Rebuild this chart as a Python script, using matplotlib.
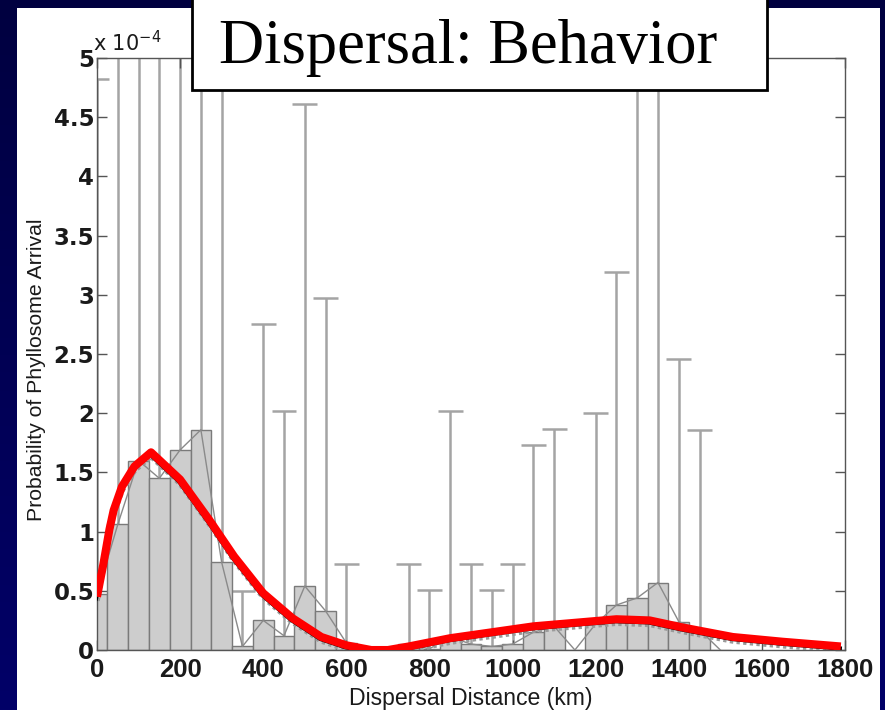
import numpy as np
import matplotlib
matplotlib.use("Agg")
import matplotlib.pyplot as plt
from matplotlib.patches import Rectangle
from matplotlib.transforms import offset_copy

# bin centres (km), bar heights and upper error limits (units of 1e-4)
bin_km = [0, 50, 100, 150, 200, 250, 300, 350, 400, 450, 500, 550, 600, 650, 700, 750,
          800, 850, 900, 950, 1000, 1050, 1100, 1150, 1200, 1250, 1300, 1350, 1400, 1450, 1500]
bar_prob = [0.47, 1.06, 1.60, 1.45, 1.69, 1.86, 0.74, 0.03, 0.25, 0.12, 0.54, 0.33, 0.06, 0.0, 0.0, 0.05,
            0.01, 0.11, 0.05, 0.03, 0.05, 0.15, 0.20, 0.0, 0.22, 0.38, 0.44, 0.57, 0.24, 0.17, 0.0]
# nan = no error bar; 5.5 = runs off the top of the plot
err_top = [4.82, 5.5, 5.5, 5.5, 5.5, 5.5, 5.5, 0.50, 2.75, 2.02, 4.61, 2.97, 0.73, np.nan, np.nan, 0.73,
           0.51, 2.02, 0.73, 0.51, 0.73, 1.73, 1.87, np.nan, 2.00, 3.19, 5.5, 5.5, 2.46, 1.86, np.nan]

# fitted curve (km, units of 1e-4)
fit_km = [0, 15, 30, 40, 60, 90, 130, 200, 270, 330, 400, 470, 540, 600, 660, 700, 750,
          850, 950, 1050, 1150, 1250, 1330, 1410, 1530, 1650, 1790]
fit_prob = [0.45, 0.72, 1.02, 1.18, 1.38, 1.55, 1.67, 1.44, 1.10, 0.79, 0.48, 0.27, 0.11, 0.04, 0.0, 0.0, 0.03,
            0.10, 0.15, 0.20, 0.23, 0.26, 0.25, 0.19, 0.11, 0.07, 0.03]

xticks = [0, 200, 400, 600, 800, 1000, 1200, 1400, 1600, 1800]
yticks = [0, 0.5, 1, 1.5, 2, 2.5, 3, 3.5, 4, 4.5, 5]
ytick_labels = ["0", "0.5", "1", "1.5", "2", "2.5", "3", "3.5", "4", "4.5", "5"]

W, H = 885, 710
fig = plt.figure(figsize=(W / 100, H / 100), dpi=100)

# navy gradient background
bg = fig.add_axes([0, 0, 1, 1], zorder=-10)
grad = np.linspace(0, 1, 256).reshape(-1, 1)
top_c = np.array([0x00, 0x00, 0x40]) / 255
bot_c = np.array([0x02, 0x00, 0x68]) / 255
img = top_c[None, None, :] * (1 - grad[:, :, None]) + bot_c[None, None, :] * grad[:, :, None]
bg.imshow(img, aspect="auto", extent=[0, 1, 0, 1])
bg.axis("off")

# white panel
fig.patches.append(Rectangle((17 / W, 0), 863 / W, 702 / H, transform=fig.transFigure,
                             facecolor="white", edgecolor="none", zorder=-5))

ax = fig.add_axes([97 / W, 60 / H, 748 / W, 592 / H])
ax.set_facecolor("white")

x = np.array(bin_km)
h = np.array(bar_prob)
e = np.array(err_top)
has_err = ~np.isnan(e)

# error bars (upper half only)
ax.vlines(x[has_err], h[has_err], e[has_err], color="#a4a4a4", lw=1.8, zorder=1)
ax.hlines(e[has_err], x[has_err] - 30, x[has_err] + 30, color="#a4a4a4", lw=1.8, zorder=1)

ax.bar(x, h, width=50, color="#cdcdcd", edgecolor="#7a7a7a", linewidth=1.0, zorder=2)
ax.plot(x, h, color="#8a8a8a", lw=1.0, zorder=3)

# fit: grey band, black line, red line on top
band_tr = offset_copy(ax.transData, fig=fig, x=0, y=-4, units="dots")
black_tr = offset_copy(ax.transData, fig=fig, x=-1, y=-2, units="dots")
ax.plot(fit_km, fit_prob, color="#9a9a9a", lw=4, ls=(0, (0.6, 0.6)), transform=band_tr, zorder=4)
ax.plot(fit_km, fit_prob, color="black", lw=3, transform=black_tr, zorder=5)
ax.plot(fit_km, fit_prob, color="#ff0000", lw=5.8, zorder=6, solid_capstyle="butt")

ax.set_xlim(0, 1800)
ax.set_ylim(0, 5)
ax.set_xticks(xticks)
ax.set_yticks(yticks)
ax.set_yticklabels(ytick_labels)
ax.tick_params(direction="in", length=7, width=1, color="#555555", top=True, right=True,
               labelcolor="#1a1a1a")
ax.tick_params(axis="x", pad=6)
ax.tick_params(axis="y", pad=2)
for lab in ax.get_xticklabels():
    lab.set_family("Liberation Sans")
    lab.set_fontsize(18.5)
    lab.set_fontweight("bold")
for lab in ax.get_yticklabels():
    lab.set_family("DejaVu Sans")
    lab.set_fontsize(16.5)
    lab.set_fontweight("bold")
for s in ax.spines.values():
    s.set_color("#555555")
    s.set_linewidth(1.0)

ax.set_xlabel("Dispersal Distance (km)", fontsize=16.6, family="Liberation Sans", color="#1a1a1a")
ax.xaxis.set_label_coords(0.5, -0.062)
ax.set_ylabel("Probability of Phyllosome Arrival", fontsize=15.3, family="Liberation Sans",
              color="#1a1a1a")
ax.yaxis.set_label_coords(-0.068, 0.473)

fig.text(93 / W, 1 - 51 / H, r"x 10$^{-4}$", fontsize=15, family="DejaVu Sans", color="#1a1a1a",
         ha="left", va="baseline")

# title box
fig.patches.append(Rectangle((192 / W, 1 - 90 / H), 575 / W, 92 / H, transform=fig.transFigure,
                             facecolor="white", edgecolor="black", linewidth=2, zorder=10))
fig.text(468 / W, 1 - 63 / H, "Dispersal: Behavior", fontsize=45, family="Liberation Serif",
         color="black", ha="center", va="baseline", zorder=11)

fig.savefig("out.png", dpi=100)
